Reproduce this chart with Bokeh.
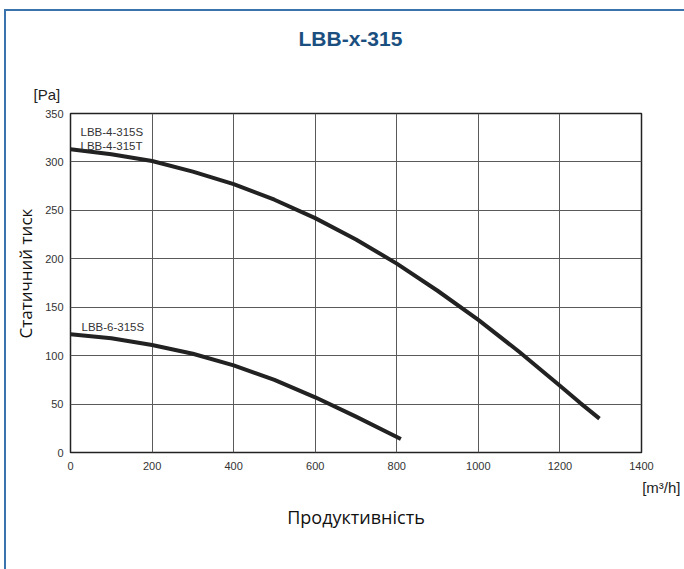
from bokeh.plotting import figure
from bokeh.models import Label, Title, FixedTicker
from bokeh.embed import file_html
from bokeh.resources import INLINE

# ---- data ----
flow_4 = [0, 100, 200, 300, 400, 500, 600, 700, 800, 900, 1000, 1100, 1200, 1250, 1297]
pressure_4 = [313, 308, 301, 290, 277, 261, 242, 220, 195, 167, 137, 104, 69, 51, 35]
flow_6 = [0, 100, 200, 300, 400, 500, 600, 700, 810]
pressure_6 = [122, 118, 111, 102, 90, 75, 57, 37, 14]
x_ticks = [0, 200, 400, 600, 800, 1000, 1200, 1400]
y_ticks = [0, 50, 100, 150, 200, 250, 300, 350]
series_labels = ["LBB-4-315S", "LBB-4-315T", "LBB-6-315S"]

W, H = 684, 569
FL, FR, FT, FB = 70, 641, 113, 452   # frame edges in canvas px

p = figure(width=W, height=H, output_backend="svg", toolbar_location=None,
           title=None, x_range=(x_ticks[0], x_ticks[-1]), y_range=(y_ticks[0], y_ticks[-1]),
           min_border_left=FL, min_border_right=W - FR,
           min_border_top=FT, min_border_bottom=H - FB)

def dx(cx):
    return (cx - FL) * (x_ticks[-1] - x_ticks[0]) / (FR - FL)

def dy(cy):
    return (FB - cy) * (y_ticks[-1] - y_ticks[0]) / (FB - FT)

p.xaxis.ticker = FixedTicker(ticks=x_ticks)
p.yaxis.ticker = FixedTicker(ticks=y_ticks)
for ax in (p.xaxis, p.yaxis):
    ax.axis_line_color = None
    ax.major_tick_line_color = None
    ax.minor_tick_line_color = None
    ax.major_tick_out = 0
    ax.major_tick_in = 0
    ax.minor_tick_out = 0
    ax.minor_tick_in = 0
    ax.major_label_text_font = "Liberation Sans"
    ax.major_label_text_font_size = "11px"
    ax.major_label_text_color = "#333333"
p.xaxis.major_label_standoff = 9
p.yaxis.major_label_standoff = 7

p.grid.grid_line_color = "#5a5a5a"
p.grid.grid_line_width = 1
p.outline_line_color = "#222222"
p.outline_line_width = 1.5
p.background_fill_color = "white"
p.border_fill_color = None

p.line(flow_4, pressure_4, line_color="#222222", line_width=4, line_join="round")
p.line(flow_6, pressure_6, line_color="#222222", line_width=4, line_join="round")

lab_font = "Liberation Sans"
for txt, lx, ly in [(series_labels[0], 80, 131.5), (series_labels[1], 80, 145),
                    (series_labels[2], 81, 326)]:
    p.add_layout(Label(x=dx(lx), y=dy(ly), text=txt, text_font=lab_font,
                       text_font_size="11.5px", text_color="#333333",
                       text_baseline="middle"))

# above: unit first (closest to frame), then main title
p.add_layout(Title(text="[Pa]", align="left", offset=-37, vertical_align="middle",
                   text_font="Liberation Sans", text_font_style="normal",
                   text_font_size="15px", text_color="#222222", standoff=19), "above")
p.add_layout(Title(text="LBB-x-315", align="left", offset=228, vertical_align="middle",
                   text_font="Liberation Sans", text_font_style="bold",
                   text_font_size="21px", text_color="#1b4f80", standoff=50), "above")

# below: unit, then axis title
p.add_layout(Title(text="[m³/h]", align="right", offset=-39, vertical_align="middle",
                   text_font="Liberation Sans", text_font_style="normal",
                   text_font_size="15px", text_color="#222222", standoff=11), "below")
p.add_layout(Title(text="Продуктивність", align="center", vertical_align="middle",
                   text_font="Open Sans", text_font_style="normal",
                   text_font_size="18px", text_color="#111111", standoff=2), "below")

# left: axis title
p.add_layout(Title(text="Статичний тиск", align="left", offset=114, vertical_align="middle",
                   text_font="Open Sans", text_font_style="normal",
                   text_font_size="17px", text_color="#111111", standoff=10), "left")

# blue page frame lines behind the transparent border area
p.styles = {
    "background": ("linear-gradient(#3b74ad, #3b74ad) 4px 9px / 2px 560px no-repeat, "
                   "linear-gradient(#3b74ad, #3b74ad) 4px 9px / 680px 2px no-repeat, white")
}

open("out.html", "w").write(file_html(p, INLINE))
